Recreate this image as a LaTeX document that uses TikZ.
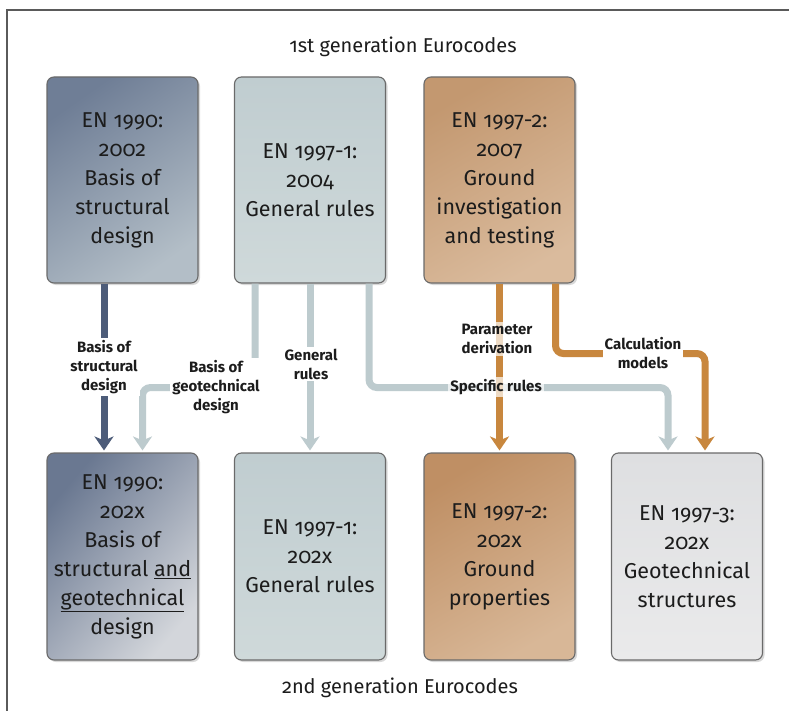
\documentclass[tikz,border=0pt]{standalone}
\usepackage{fontspec}
\setmainfont{Fira Sans}[Numbers=OldStyle]
\usetikzlibrary{arrows.meta,shadows}
\definecolor{txt}{HTML}{1C1C1C}
\definecolor{boxline}{HTML}{6A6A6A}
\definecolor{cdark}{HTML}{4D5C79}
\definecolor{clight}{HTML}{BDCBCE}
\definecolor{ctan}{HTML}{C8873E}
\definecolor{frame}{HTML}{5A5A5A}
\definecolor{ga1}{HTML}{6F7E96}
\definecolor{gb1}{HTML}{B3BEC7}
\definecolor{ga2}{HTML}{C0CDD0}
\definecolor{gb2}{HTML}{CFD9DA}
\definecolor{ga3}{HTML}{C39870}
\definecolor{gb3}{HTML}{DABB9D}
\definecolor{ha1}{HTML}{6A7891}
\definecolor{hb1}{HTML}{D3D6DB}
\definecolor{ha3}{HTML}{BF8F64}
\definecolor{hb3}{HTML}{D8B797}
\definecolor{ha4}{HTML}{DEDFE1}
\definecolor{hb4}{HTML}{EAEAEB}
\tikzset{
  box/.style={draw=boxline, line width=1.1pt, rounded corners=7pt,
    minimum width=151pt, minimum height=206pt, inner sep=0pt, align=center,
    font=\fontsize{21.5}{29}\selectfont, text=txt,
    drop shadow={shadow xshift=2pt, shadow yshift=-2pt, opacity=0.3}},
  conn/.style={line width=7pt, rounded corners=8pt, shorten >=2pt,
    -{Stealth[length=14pt,width=19pt,inset=4pt]}},
  lab/.style={fill=white, inner sep=2pt, align=center,
    font=\bfseries\fontsize{15}{19}\selectfont, text=txt},
  title/.style={font=\fontsize{20}{24}\selectfont, text=txt}
}
\begin{document}
\begin{tikzpicture}[x=1pt,y=-1pt]
\useasboundingbox (0,0) rectangle (789,711);
\fill[white] (0,0) rectangle (789,711);
% frame
\draw[frame, line width=2pt] (6,10) -- (789,10);
\draw[frame, line width=1.4pt] (7,10) -- (7,711);

% titles
\node[title] (t1) at (403,47) {1st generation Eurocodes};
\node[title] (t2) at (400,688) {2nd generation Eurocodes};

% top boxes
\node[box, top color=ga1, bottom color=gb1, shading angle=35] (a1) at (122.5,180)
  {EN 1990:\\2002\\Basis of\\structural\\design};
\node[box, top color=ga2, bottom color=gb2] (a2) at (310,180)
  {EN 1997-1:\\2004\\General rules};
\node[box, top color=ga3, bottom color=gb3, shading angle=30] (a3) at (499.5,180)
  {EN 1997-2:\\2007\\Ground\\investigation\\and testing};

% bottom boxes
\node[box, minimum height=207pt, top color=ha1, bottom color=hb1, shading angle=50] (b1) at (122.5,556.5)
  {EN 1990:\\202x\\Basis of\\structural \underline{and}\\\underline{geotechnical}\\design};
\node[box, minimum height=207pt, top color=ga2, bottom color=gb2] (b2) at (310,556.5)
  {EN 1997-1:\\202x\\General rules};
\node[box, minimum height=207pt, top color=ha3, bottom color=hb3, shading angle=30] (b3) at (499.5,556.5)
  {EN 1997-2:\\202x\\Ground\\properties};
\node[box, minimum height=207pt, top color=ha4, bottom color=hb4] (b4) at (687,556.5)
  {EN 1997-3:\\202x\\Geotechnical\\structures};

% connectors
\draw[conn, cdark] ([xshift=-18.5pt]a1.south) -- ([xshift=-18.5pt]b1.north);
\draw[conn, clight] ([xshift=-55pt]a2.south) -- ++(0,104) -| ([xshift=20pt]b1.north);
\draw[conn, clight] (a2.south) -- (b2.north);
\draw[conn, clight] ([xshift=59pt]a2.south) -- ++(0,104) -| ([xshift=-19pt]b4.north);
\draw[conn, ctan] (a3.south) -- (b3.north);
\draw[conn, ctan] ([xshift=56pt]a3.south) -- ++(0,70) -| ([xshift=18pt]b4.north);

% labels
\node[lab] (l1) at (104,367) {Basis of\\structural\\design};
\node[lab] (l2) at (216,387) {Basis of\\geotechnical\\design};
\node[lab] (l3) at (311,364) {General\\rules};
\node[lab, fill opacity=0.7, text opacity=1] (l5) at (497,339) {Parameter\\derivation};
\node[lab, fill opacity=0.7, text opacity=1] (l4) at (496,387) {Specific rules};
\node[lab] (l6) at (643,353) {Calculation\\models};
\end{tikzpicture}
\end{document}
